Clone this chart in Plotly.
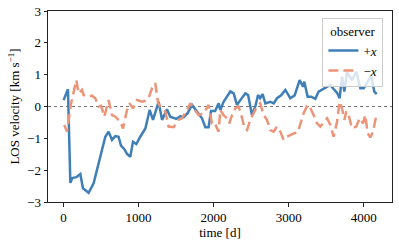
import plotly.graph_objects as go

# +x observer
t_plus = [0, 58, 90, 116, 170, 223, 258, 333, 400, 490, 556, 600, 645, 690, 733, 765, 810, 845, 889, 925,
          970, 1022, 1090, 1147, 1192, 1267, 1312, 1378, 1422, 1502, 1556, 1600, 1653, 1712, 1778, 1845, 1889,
          1933, 1965, 2020, 2067, 2089, 2133, 2178, 2222, 2267, 2311, 2356, 2422, 2460, 2511, 2556, 2592, 2620,
          2653, 2689, 2756, 2800, 2845, 2900, 2956, 3022, 3080, 3147, 3192, 3209, 3253, 3300, 3356, 3400, 3489,
          3556, 3600, 3645, 3680, 3712, 3743, 3778, 3845, 3902, 3956, 4000, 4045, 4098, 4142, 4175]
v_plus = [0.2, 0.54, -2.4, -2.25, -2.22, -2.12, -2.57, -2.71, -2.41, -1.58, -0.95, -0.79, -1.05, -0.93, -0.95,
          -1.23, -1.34, -1.49, -1.58, -1.11, -1.18, -0.95, -0.69, -0.11, -0.42, 0.15, -0.42, -0.09, -0.32, -0.39,
          -0.30, -0.34, -0.21, 0.05, -0.16, -0.37, -0.65, -0.65, -0.14, -0.14, 0.1, -0.11, 0.15, 0.31, 0.47, 0.41,
          0.05, 0.2, 0.41, 0.36, -0.27, 0.0, 0.36, 0.26, 0.39, 0.1, 0.15, 0.1, 0.26, 0.35, 0.52, 0.26, 0.35, 0.83,
          0.62, 0.78, 0.31, 0.31, 0.24, 0.47, 0.6, 0.68, 0.55, 0.43, 0.26, 0.94, 0.47, 1.09, 0.83, 1.09, 0.57, 0.57,
          0.73, 0.99, 0.47, 0.39]

# -x observer
t_minus = [9, 45, 100, 170, 200, 245, 267, 320, 378, 422, 467, 500, 543, 600, 645, 690, 756, 792, 845, 880,
           925, 978, 1045, 1089, 1133, 1178, 1222, 1260, 1289, 1356, 1400, 1467, 1533, 1578, 1645, 1689, 1733,
           1800, 1867, 1933, 1978, 2010, 2067, 2089, 2133, 2178, 2209, 2245, 2289, 2333, 2369, 2413, 2445, 2489,
           2533, 2578, 2622, 2667, 2711, 2756, 2800, 2845, 2889, 2933, 2978, 3022, 3075, 3120, 3156, 3200, 3253,
           3290, 3333, 3378, 3422, 3467, 3512, 3556, 3600, 3645, 3680, 3712, 3743, 3770, 3800, 3845, 3902, 3947,
           3992, 4022, 4053, 4089, 4125, 4170]
v_minus = [-0.58, -0.79, 0.1, 0.83, 0.41, 0.52, 0.36, 0.31, 0.34, 0.26, 0.0, 0.02, -0.32, 0.2, -0.27, -0.32,
           -0.48, -0.69, -0.11, 0.1, -0.06, 0.2, 0.15, 0.18, 0.26, 0.57, 0.73, 0.1, 0.0, -0.16, -0.63, -0.65, -0.42,
           -0.37, -0.11, 0.1, -0.06, -0.27, -0.21, 0.05, -0.53, -0.5, -0.79, -0.11, -0.27, -0.37, -0.53, -0.27, -0.06,
           0.0, -0.27, -0.69, -0.74, -0.42, -0.21, 0.0, 0.1, -0.27, -0.42, -0.74, -0.79, -0.63, -0.79, -1.05, -0.95,
           -0.9, -0.84, -0.82, -0.53, -0.21, 0.05, -0.05, -0.27, -0.53, -0.63, -0.48, -0.37, -0.58, -0.95, -0.48, 0.15,
           -0.06, -0.42, -0.15, -0.27, -0.69, -0.63, -0.37, -0.53, -0.27, -0.84, -0.97, -0.79, -0.27]

x_ticks = [0, 1000, 2000, 3000, 4000]
y_ticks = [-3, -2, -1, 0, 1, 2, 3]
y_tick_text = ["\u22123", "\u22122", "\u22121", "0", "1", "2", "3"]

FONT = "Liberation Serif"
FS = 13

fig = go.Figure()
fig.add_trace(go.Scatter(x=t_plus, y=v_plus, mode="lines", name="+<i>x</i>",
                         line=dict(color="#3f7fb8", width=2.5)))
fig.add_trace(go.Scatter(x=t_minus, y=v_minus, mode="lines", name="\u2212<i>x</i>",
                         line=dict(color="#ec9478", width=2.5, dash="10px,5px")))

fig.add_hline(y=0, line=dict(color="#777777", width=1, dash="dot"), layer="below")

axis_common = dict(showline=True, linecolor="#222222", linewidth=1, mirror=True, automargin=False,
                   ticks="outside", ticklen=3.5, tickcolor="#222222", showgrid=False, zeroline=False,
                   tickfont=dict(family=FONT, size=FS, color="black"))

fig.update_layout(
    width=399, height=244,
    margin=dict(l=48, r=7, t=11, b=42),
    paper_bgcolor="white", plot_bgcolor="white",
    font=dict(family=FONT, size=FS, color="black"),
    xaxis=dict(range=[-208, 4378], tickvals=x_ticks, ticktext=[str(v) for v in x_ticks],
               title=dict(text="time [d]", standoff=2, font=dict(family=FONT, size=FS)), **axis_common),
    yaxis=dict(range=[-3, 3], tickvals=y_ticks, ticktext=y_tick_text,
               title=dict(text="LOS velocity [km s<sup>\u22121</sup>]", standoff=4, font=dict(family=FONT, size=FS)),
               **axis_common),
    legend=dict(title=dict(text="observer", side="top center", font=dict(family=FONT, size=FS)),
                x=0.975, y=0.965, xanchor="right", yanchor="top",
                bgcolor="rgba(255,255,255,0.8)", bordercolor="#cccccc", borderwidth=1,
                font=dict(family=FONT, size=FS), itemwidth=30, tracegroupgap=0),
    showlegend=True,
)

fig.write_html("out.html", config={"displayModeBar": False},
               post_script="document.body.style.margin='0';")
